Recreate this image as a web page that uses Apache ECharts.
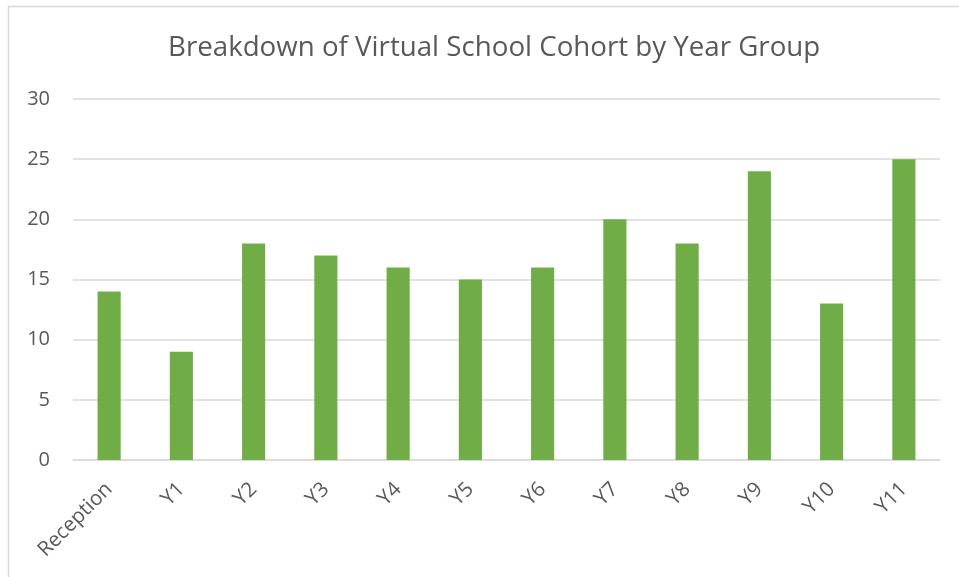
<!DOCTYPE html>
<html>
<head>
<meta charset="utf-8">
<script src="https://cdn.jsdelivr.net/npm/echarts@6/dist/echarts.min.js"></script>
<style>
html, body { margin: 0; padding: 0; background: #fff; }
#main { width: 959px; height: 577px; }
</style>
</head>
<body>
<div id="main"></div>
<script>
var yearGroups = ['Reception', 'Y1', 'Y2', 'Y3', 'Y4', 'Y5', 'Y6', 'Y7', 'Y8', 'Y9', 'Y10', 'Y11'];
var pupilCounts = [14, 9, 18, 17, 16, 15, 16, 20, 18, 24, 13, 25];

var dom = document.getElementById('main');
var myChart = echarts.init(dom);

var option = {
    backgroundColor: '#fff',
    textStyle: { fontFamily: 'Open Sans, Noto Sans, sans-serif' },
    title: {
        text: 'Breakdown of Virtual School Cohort by Year Group',
        left: 163,
        top: 29,
        textStyle: { color: '#595959', fontSize: 27.7, fontWeight: 'normal' }
    },
    // outer chart frame (only left and top edges are inside the picture)
    graphic: [{
        type: 'rect',
        shape: { x: 8.5, y: 6.5, width: 1000, height: 700 },
        style: { fill: 'none', stroke: '#d9d9d9', lineWidth: 1.5 },
        silent: true
    }],
    grid: { left: 73, right: 19, top: 99, bottom: 117 },
    xAxis: {
        type: 'category',
        data: yearGroups,
        axisLine: { lineStyle: { color: '#d9d9d9', width: 1.5 } },
        axisTick: { show: false },
        axisLabel: { color: '#595959', fontSize: 20.5, rotate: 45, margin: 26, interval: 0 }
    },
    yAxis: {
        type: 'value',
        min: 0,
        max: 30,
        interval: 5,
        axisLine: { show: false },
        axisTick: { show: false },
        axisLabel: { color: '#595959', fontSize: 20, margin: 23 },
        splitLine: { lineStyle: { color: '#d9d9d9', width: 1.5 } }
    },
    series: [{
        type: 'bar',
        data: pupilCounts,
        barWidth: '32%',
        itemStyle: { color: '#70ad47' }
    }]
};

myChart.setOption(option);
</script>
</body>
</html>
